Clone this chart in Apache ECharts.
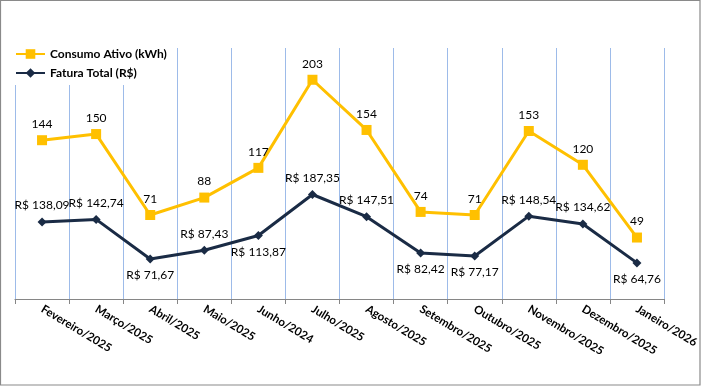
<!DOCTYPE html>
<html><head><meta charset="utf-8">
<script src="https://cdn.jsdelivr.net/npm/echarts@6/dist/echarts.min.js"></script>
<style>html,body{margin:0;padding:0;background:#fff}#c{width:701px;height:386px}</style>
</head><body><div id="c"></div>
<script>
const categories = ['Fevereiro/2025','Março/2025','Abril/2025','Maio/2025','Junho/2024','Julho/2025','Agosto/2025','Setembro/2025','Outubro/2025','Novembro/2025','Dezembro/2025','Janeiro/2026'];
const consumo = [144,150,71,88,117,203,154,74,71,153,120,49];
const fatura = [138.09,142.74,71.67,87.43,113.87,187.35,147.51,82.42,77.17,148.54,134.62,64.76];
const faturaLabelPos = ['top','top','bottom','top','bottom','top','top','bottom','bottom','top','top','bottom'];

const FONT = 'Lato';
const chart = echarts.init(document.getElementById('c'), null, {renderer:'canvas'});
chart.setOption({
  animation:false,
  backgroundColor:'#fff',
  graphic:[{type:'rect',shape:{x:0.5,y:0.5,width:699.5,height:384.5},style:{fill:'none',stroke:'#8a8a8a',lineWidth:1.2},z:-1}],
  grid:{left:15,right:37,top:48,bottom:87,containLabel:false,outerBoundsMode:'none'},
  legend:{
    orient:'vertical',left:12,top:46,itemGap:7,itemWidth:29,itemHeight:12,z:20,
    backgroundColor:'#fff',padding:[2,8,6,3],
    textStyle:{fontFamily:FONT,fontSize:12,fontWeight:'bold',color:'#000'},
    data:['Consumo Ativo (kWh)','Fatura Total (R$)']
  },
  xAxis:{
    type:'category',data:categories,boundaryGap:true,
    axisLine:{onZero:false,lineStyle:{color:'#868686',width:1.2}},
    axisTick:{show:true,length:5,lineStyle:{color:'#868686'}},
    splitLine:{show:true,lineStyle:{color:'#9dbbe9',width:1}},
    axisLabel:{rotate:-31,margin:9,interval:0,fontFamily:FONT,fontSize:11.5,fontWeight:'bold',color:'#000'}
  },
  yAxis:[
    {type:'value',min:-11,max:234,show:false,splitLine:{show:false}},
    {type:'value',min:0,max:450,show:false,splitLine:{show:false}}
  ],
  series:[
    {name:'Consumo Ativo (kWh)',type:'line',yAxisIndex:0,data:consumo,
     symbol:'rect',symbolSize:10,
     lineStyle:{color:'#FFC000',width:3},itemStyle:{color:'#FFC000'},
     label:{show:true,position:'top',distance:5,fontFamily:FONT,fontSize:12,color:'#000'},z:3},
    {name:'Fatura Total (R$)',type:'line',yAxisIndex:1,
     data:fatura.map((v,i)=>({value:v,label:{position:faturaLabelPos[i]}})),
     symbol:'diamond',symbolSize:9,
     lineStyle:{color:'#1a2b45',width:3},itemStyle:{color:'#1a2b45'},
     label:{show:true,distance:6,fontFamily:FONT,fontSize:12,color:'#000',
       formatter:p=>'R$ '+p.value.toFixed(2).replace('.',',')},z:4}
  ]
});
</script></body></html>
